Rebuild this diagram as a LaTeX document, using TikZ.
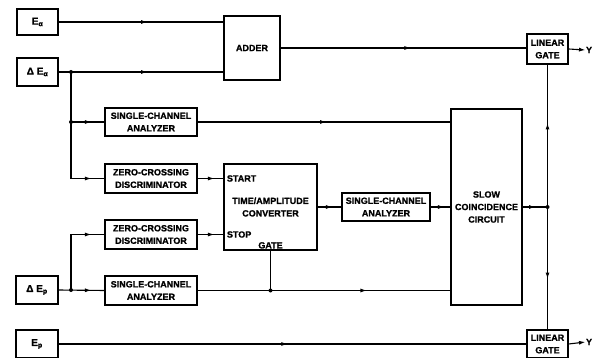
\documentclass[tikz,border=0pt]{standalone}
\usepackage{fontspec}
\setmainfont{Liberation Sans}[BoldFeatures={FakeBold=1.2}]
\usetikzlibrary{arrows.meta,decorations.markings}
\begin{document}
\begin{tikzpicture}[x=1pt,y=-1pt,line width=1.1pt,
  box/.style={draw,line width=1.2pt,align=center,inner sep=0pt,
    font=\bfseries\fontsize{9}{12.5}\selectfont},
  inbox/.style={box,font=\bfseries\fontsize{10}{12}\selectfont},
  lbl/.style={inner sep=0pt,align=center,font=\bfseries\fontsize{9}{12.5}\selectfont},
  midarr/.style={postaction={decorate},decoration={markings,
    mark=at position #1 with {\arrow{Latex[length=6.5pt,width=4pt]}}}},
  endarr/.style={-{Latex[length=6.5pt,width=4pt]}}]
\useasboundingbox (0,0) rectangle (594,358);
% nodes
\node[inbox,minimum width=41pt,minimum height=26pt] (Ea) at (37.5,22) {E\textsubscript{α}};
\node[inbox,minimum width=41pt,minimum height=28pt] (dEa) at (37.5,72) {Δ E\textsubscript{α}};
\node[box,minimum width=56pt,minimum height=64pt] (adder) at (252,48) {ADDER};
\node[box,minimum width=41pt,minimum height=30pt] (lg1) at (547.5,49) {LINEAR\\GATE};
\node[box,minimum width=92pt,minimum height=28pt] (sca1) at (151,122) {SINGLE-CHANNEL\\ANALYZER};
\node[box,minimum width=92pt,minimum height=29pt] (zcd1) at (151,178.5) {ZERO-CROSSING\\DISCRIMINATOR};
\node[box,minimum width=93pt,minimum height=86pt] (tac) at (270.5,207) {TIME/AMPLITUDE\\CONVERTER};
\node[box,minimum width=92pt,minimum height=29pt] (zcd2) at (151,234.5) {ZERO-CROSSING\\DISCRIMINATOR};
\node[box,minimum width=88pt,minimum height=28pt] (sca2) at (386,207) {SINGLE-CHANNEL\\ANALYZER};
\node[box,minimum width=71pt,minimum height=196pt] (coinc) at (486.5,207) {SLOW\\COINCIDENCE\\CIRCUIT};
\node[inbox,minimum width=42pt,minimum height=28pt] (dEp) at (37,290) {Δ E\textsubscript{p}};
\node[box,minimum width=92pt,minimum height=29pt] (sca3) at (151,290.5) {SINGLE-CHANNEL\\ANALYZER};
\node[inbox,minimum width=42pt,minimum height=28pt] (Ep) at (37,344) {E\textsubscript{p}};
\node[box,minimum width=41pt,minimum height=28pt] (lg2) at (547.5,344) {LINEAR\\GATE};
\node[lbl,anchor=west] (start) at ([xshift=3pt]zcd1.east -| tac.west) {START};
\node[lbl,anchor=west] (stop) at ([xshift=3pt]zcd2.east -| tac.west) {STOP};
\node[lbl,anchor=south] (gate) at ([yshift=1.5pt]tac.south) {GATE};
\node[lbl,anchor=west] (y1) at (585.5,50) {Y};
\node[lbl,anchor=west] (y2) at (585.5,342) {Y};
% branch points
\coordinate (b1) at (71,72);
\coordinate (b2) at (71,122);
\coordinate (b3) at (71,290);
\coordinate (b4) at (coinc.east -| lg1.south);
\coordinate (b5) at (tac.south |- sca3.east);
% connectors
\draw[midarr=0.54] (Ea.east) -- (Ea.east -| adder.west);
\draw[midarr=0.54] (dEa.east) -- (dEa.east -| adder.west);
\draw[midarr=0.53] (adder.east) -- (adder.east -| lg1.west);
\draw[midarr=-13pt] (b1) |- (zcd1.west);
\draw[midarr=-13pt] (b2) -- (sca1.west);
\draw[midarr=0.51] (sca1.east) -- (sca1.east -| coinc.west);
\draw[midarr=-9pt] (zcd1.east) -- (zcd1.east -| tac.west);
\draw[midarr=-9pt] (zcd2.east) -- (zcd2.east -| tac.west);
\draw[midarr=-9pt] (tac.east) -- (sca2.west);
\draw[midarr=-6pt] (sca2.east) -- (sca2.east -| coinc.west);
\draw[midarr=-13pt] (dEp.east) -- (sca3.west);
\draw[midarr=-13pt] (b3) |- (zcd2.west);
\draw[midarr=0.67] (sca3.east) -- (sca3.east -| coinc.west);
\draw (tac.south) -- (b5);
\draw[midarr=13pt] (coinc.east) -- (b4);
\draw[midarr=84pt] (b4) -- (lg1.south);
\draw[midarr=72pt] (b4) -- (lg2.north);
\draw[midarr=0.49] (Ep.east) -- (Ep.east -| lg2.west);
\draw[endarr] (lg1.east) -- (y1.west);
\draw[endarr] (lg2.east) -- (y2.west);
% dots
\foreach \p in {b1,b2,b3,b4,b5} \fill (\p) circle (2pt);
\end{tikzpicture}
\end{document}
